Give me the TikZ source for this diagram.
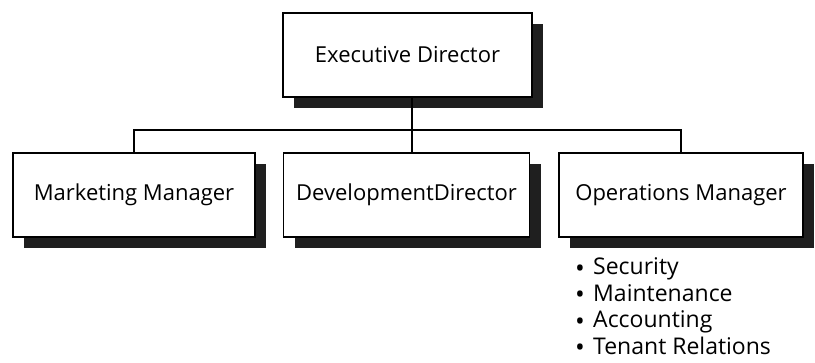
\documentclass[tikz,border=0pt]{standalone}
\usepackage{fontspec}
\setmainfont{Open Sans}
\usetikzlibrary{positioning,shadows}
\tikzset{post/.style={rectangle,draw=black,line width=1.6pt,fill=white,
    minimum width=246pt,minimum height=84pt,font=\fontsize{22}{26}\selectfont,
    general shadow={fill=black!88,shadow xshift=11pt,shadow yshift=-11pt}}}
\tikzset{wire/.style={draw=black,line width=1.6pt}}
\tikzset{duty/.style={anchor=base west,inner sep=0pt,font=\fontsize{23}{26}\selectfont}}
\newcommand{\dutydot}{\makebox[18pt][l]{\raisebox{-2.5pt}{\fontsize{26}{26}\selectfont\textbullet}}}

\begin{document}
\begin{tikzpicture}[x=1pt,y=-1pt]
\useasboundingbox (0,0) rectangle (815,363);
% \draw[help lines,step=50] (0,0) grid (815,363);
\node (exec) [post,minimum width=249pt] at (407.5,55) {Executive Director};
\node (mkt) [post,minimum width=242pt] at (134,195) {Marketing Manager};
\node (dev) [post] at (406.5,195) {DevelopmentDirector};
\node (ops) [post,minimum width=244pt] at (681,195) {Operations Manager};
\coordinate (bar) at (0,130);
%
\path[wire] (exec.south -| 412,0) -- (dev.north -| 412,0);
\path[wire] (mkt.north) -- (mkt.north |- bar) -- (ops.north |- bar) -- (ops.north);
% duties under operations
\node (d1) [duty] at (575,275) {\dutydot Security};
\node (d2) [duty] at (575,301.5) {\dutydot Maintenance};
\node (d3) [duty] at (575,328) {\dutydot Accounting};
\node (d4) [duty] at (575,354.5) {\dutydot Tenant Relations};
\end{tikzpicture}
\end{document}
